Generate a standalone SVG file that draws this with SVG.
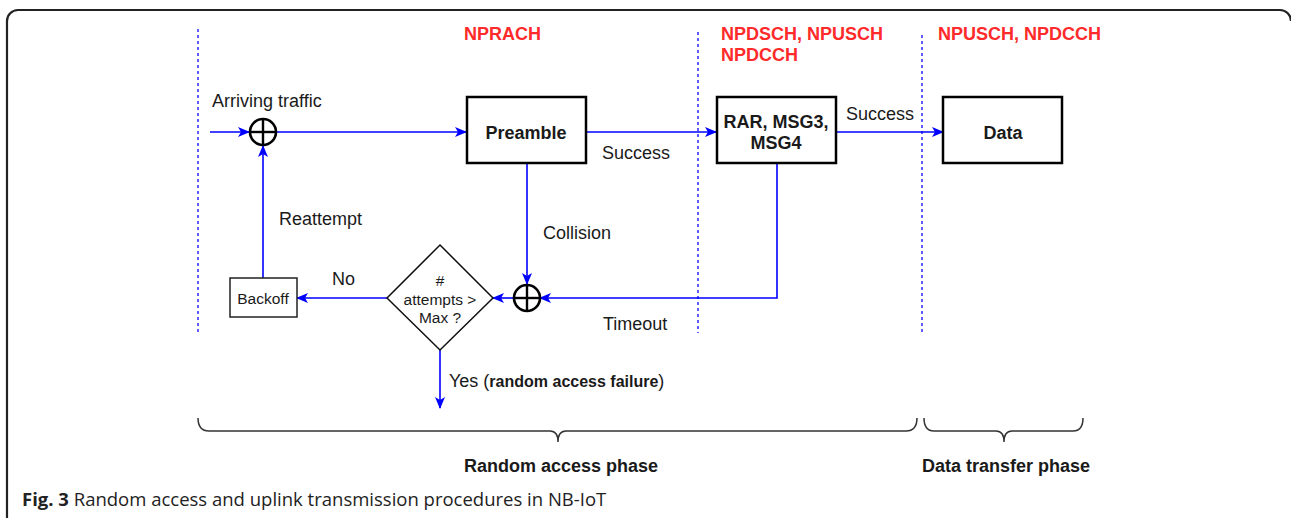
<svg xmlns="http://www.w3.org/2000/svg" width="1291" height="518" viewBox="0 0 1291 518">
<style>
text{font-family:"Liberation Sans",Arial,sans-serif;fill:#1a1a1a}
.lbl{font-size:18px}
.b{font-weight:bold}
.red{fill:#ff2a2a;font-weight:bold;font-size:18px}
.box{fill:#fff;stroke:#000;stroke-width:2.5}
.sbox{fill:#fff;stroke:#222;stroke-width:1.5}
.conn{fill:none;stroke:#0000ff;stroke-width:1.6}
.dash{fill:none;stroke:#2a2aff;stroke-width:1.5;stroke-dasharray:3 3}
.sum{fill:#fff;stroke:#000;stroke-width:2.6}
.brace{fill:none;stroke:#333;stroke-width:1.5}
.cap{font-family:"Open Sans","Noto Sans",sans-serif;font-size:18.5px;fill:#222}
</style>
<defs>
<marker id="ah" markerWidth="12" markerHeight="10" refX="11" refY="5" orient="auto" markerUnits="userSpaceOnUse">
<path d="M0,0 L12,5 L0,10 L3,5 Z" fill="#0000ff"/>
</marker>
</defs>

<path d="M7,520 V21 A11,11 0 0 1 18,10 H1280 A11,11 0 0 1 1291,21" fill="none" stroke="#222" stroke-width="2.2"/>

<g id="phase-lines">
<line class="dash" x1="198" y1="29" x2="198" y2="333"/>
<line class="dash" x1="698" y1="32" x2="698" y2="333"/>
<line class="dash" x1="922" y1="35" x2="922" y2="333"/>
</g>

<g id="channel-labels">
<text class="red" x="464" y="40">NPRACH</text>
<text class="red" x="721" y="40">NPDSCH, NPUSCH</text>
<text class="red" x="721" y="61">NPDCCH</text>
<text class="red" x="938" y="40">NPUSCH, NPDCCH</text>
</g>

<g id="connectors">
<line class="conn" x1="210" y1="132" x2="249" y2="132" marker-end="url(#ah)"/>
<line class="conn" x1="276" y1="132" x2="466" y2="132" marker-end="url(#ah)"/>
<line class="conn" x1="587" y1="132" x2="716" y2="132" marker-end="url(#ah)"/>
<line class="conn" x1="837" y1="132" x2="943" y2="132" marker-end="url(#ah)"/>
<line class="conn" x1="527" y1="164" x2="527" y2="284" marker-end="url(#ah)"/>
<polyline class="conn" points="777,164 777,298 540,298" marker-end="url(#ah)"/>
<line class="conn" x1="513" y1="298" x2="493" y2="298" marker-end="url(#ah)"/>
<line class="conn" x1="387" y1="298" x2="297" y2="298" marker-end="url(#ah)"/>
<line class="conn" x1="263" y1="278" x2="263" y2="146" marker-end="url(#ah)"/>
<line class="conn" x1="440" y1="349" x2="440" y2="408" marker-end="url(#ah)"/>
</g>

<g id="edge-labels">
<text class="lbl" x="212" y="107">Arriving traffic</text>
<text class="lbl" x="602" y="159">Success</text>
<text class="lbl" x="846" y="120">Success</text>
<text class="lbl" x="279" y="225">Reattempt</text>
<text class="lbl" x="543" y="239">Collision</text>
<text class="lbl" x="332" y="285">No</text>
<text class="lbl" x="603" y="330">Timeout</text>
<text class="lbl" x="449" y="387">Yes (<tspan class="b" font-size="16">random access failure</tspan>)</text>
</g>

<g id="sum1">
<circle class="sum" cx="263" cy="132" r="13"/>
<line x1="250" y1="132" x2="276" y2="132" stroke="#000" stroke-width="2.4"/>
<line x1="263" y1="119" x2="263" y2="145" stroke="#000" stroke-width="2.4"/>
</g>

<g id="sum2">
<circle class="sum" cx="527" cy="298" r="13"/>
<line x1="514" y1="298" x2="540" y2="298" stroke="#000" stroke-width="2.4"/>
<line x1="527" y1="285" x2="527" y2="311" stroke="#000" stroke-width="2.4"/>
</g>

<g id="preamble">
<rect class="box" x="467" y="97" width="119" height="66"/>
<text class="lbl b" x="526" y="139" text-anchor="middle">Preamble</text>
</g>

<g id="rar">
<rect class="box" x="717" y="97" width="119" height="66"/>
<text class="lbl b" x="776" y="128" text-anchor="middle">RAR, MSG3,</text>
<text class="lbl b" x="776" y="149" text-anchor="middle">MSG4</text>
</g>

<g id="data">
<rect class="box" x="943" y="97" width="119" height="66"/>
<text class="lbl b" x="1003" y="139" text-anchor="middle">Data</text>
</g>

<g id="decision">
<polygon points="440,245 493,298 440,350 387,298" fill="#fff" stroke="#111" stroke-width="1.5"/>
<text x="440" y="286" font-size="15.5" text-anchor="middle">#</text>
<text x="440" y="305" font-size="15.5" text-anchor="middle">attempts &gt;</text>
<text x="440" y="323" font-size="15.5" text-anchor="middle">Max ?</text>
</g>

<g id="backoff">
<rect class="sbox" x="230" y="278" width="67" height="39"/>
<text x="263" y="304" font-size="15.5" text-anchor="middle">Backoff</text>
</g>

<g id="braces">
<path class="brace" d="M198,418 Q198,431 209,431 H550 Q558,431 558,442 Q558,431 566,431 H906 Q917,431 917,418"/>
<path class="brace" d="M924,418 Q924,431 934,431 H996 Q1004,431 1004,442 Q1004,431 1012,431 H1073 Q1083,431 1083,418"/>
<text class="lbl b" x="561" y="472" text-anchor="middle">Random access phase</text>
<text class="lbl b" x="1006" y="472" text-anchor="middle">Data transfer phase</text>
</g>

<text class="cap" x="22" y="506"><tspan font-weight="bold">Fig. 3</tspan> Random access and uplink transmission procedures in NB-IoT</text>
</svg>
